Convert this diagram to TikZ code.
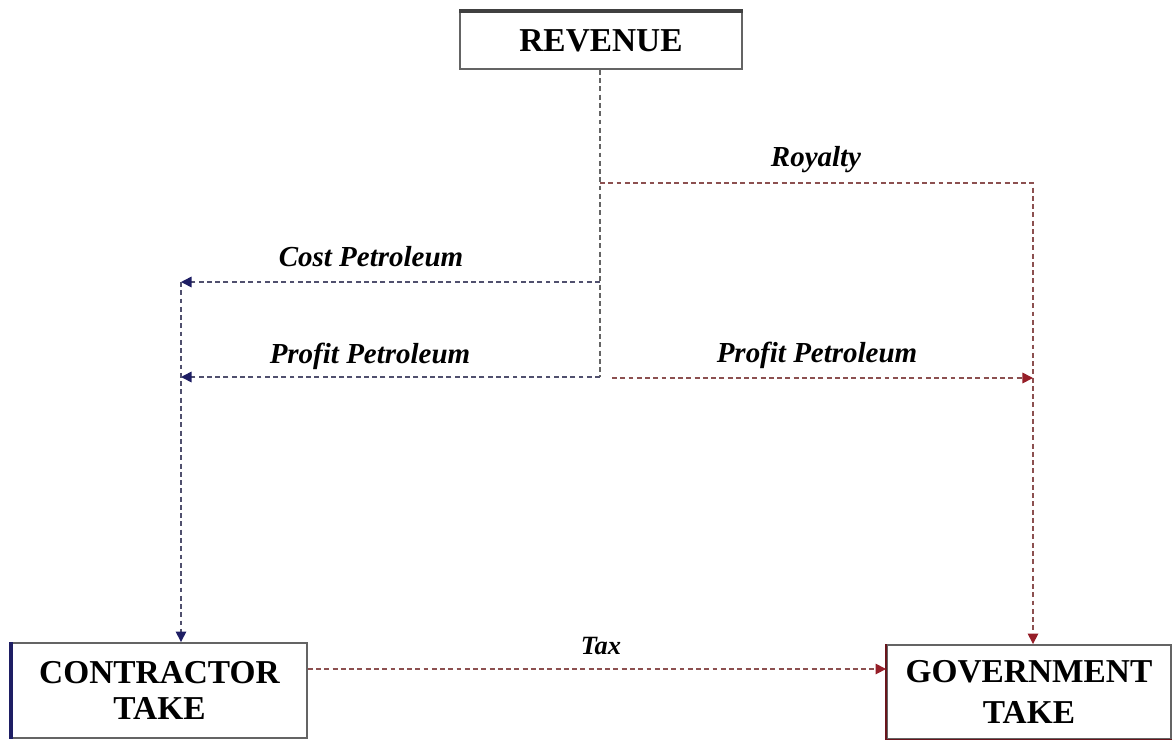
\documentclass[tikz,border=0pt]{standalone}
\usepackage{fontspec}
\setmainfont{Liberation Serif}
\usetikzlibrary{arrows.meta}
\definecolor{navyA}{RGB}{30,30,100}
\definecolor{redA}{RGB}{150,30,40}
\definecolor{lineN}{RGB}{80,80,110}
\definecolor{lineR}{RGB}{140,80,80}
\definecolor{boxG}{RGB}{100,100,100}
\tikzset{
  boxnode/.style={draw=boxG, line width=1.1pt, fill=white, inner sep=0pt, align=center, font=\fontsize{19}{22}\selectfont\bfseries},
  lbl/.style={font=\fontsize{16.5}{18}\selectfont\bfseries\itshape, inner sep=0pt},
  dl/.style={line width=0.9pt, dash pattern=on 2.8pt off 1.9pt},
  navarrow/.style={dl, draw=lineN, -{Triangle[length=6pt,width=6pt,color=navyA]}},
  redarrow/.style={dl, draw=lineR, -{Triangle[length=6pt,width=6pt,color=redA]}},
}
\begin{document}
\begin{tikzpicture}[x=0.02cm, y=-0.02cm]
\useasboundingbox (0,0) rectangle (1173,740);

% boxes
\node[boxnode, minimum width=5.64cm, minimum height=1.14cm] (rev) at (601,40.5) {REVENUE};
\node[boxnode, minimum width=5.9cm, minimum height=1.9cm, font=\fontsize{19}{20.5}\selectfont\bfseries] (con) at (159.5,690.5) {CONTRACTOR\\TAKE};
\node[boxnode, minimum width=5.68cm, minimum height=1.88cm, font=\fontsize{19}{23}\selectfont\bfseries] (gov) at (1029,692) {GOVERNMENT\\TAKE};

% box accents
\draw[line width=2pt, black!75] (rev.north west) -- (rev.north east);
\draw[line width=2.2pt, navyA] (con.north west) -- (con.south west);
\draw[line width=1.2pt, redA!70!black] (gov.north west) -- (gov.south west) -- (gov.south east);

% junction coordinates
\coordinate (jr) at (600,183);
\coordinate (rc) at (1033,183);
\coordinate (jc) at (600,282);
\coordinate (cl) at (181,282);
\coordinate (jp) at (600,377);
\coordinate (pl) at (181,377);
\coordinate (pr0) at (612,378);
\coordinate (pr) at (1033,378);
\coordinate (ty) at (600,669);

% connectors
\draw[dl, draw=boxG] (rev.south -| jr) -- (jp);
\draw[redarrow] (jr) -- (rc) -- (rc |- gov.north);
\draw[navarrow] (jc) -- (cl);
\draw[navarrow] (jp) -- (pl);
\draw[navarrow] (cl) -- (cl |- con.north);
\draw[redarrow] (pr0) -- (pr);
\draw[redarrow] (con.east |- ty) -- (gov.west |- ty);

% labels
\node[lbl] (lroy) at (816,160) {Royalty};
\node[lbl] (lcost) at (371,257) {Cost Petroleum};
\node[lbl] (lppl) at (370,356) {Profit Petroleum};
\node[lbl] (lppr) at (817,355) {Profit Petroleum};
\node[lbl, font=\fontsize{15}{17}\selectfont\bfseries\itshape] (ltax) at (601,646) {Tax};
\end{tikzpicture}
\end{document}
